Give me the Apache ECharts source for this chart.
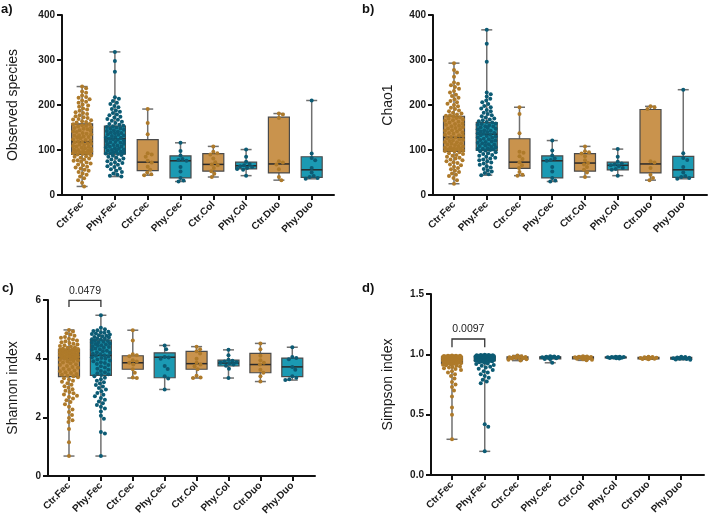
<!DOCTYPE html>
<html>
<head>
<meta charset="utf-8">
<script src="https://cdn.jsdelivr.net/npm/echarts@6/dist/echarts.min.js"></script>
<style>
html,body{margin:0;padding:0;background:#fff}
#chart{width:708px;height:518px}
</style>
</head>
<body>
<div id="chart"></div>
<script>
var categories = ['Ctr.Fec', 'Phy.Fec', 'Ctr.Cec', 'Phy.Cec', 'Ctr.Col', 'Phy.Col', 'Ctr.Duo', 'Phy.Duo'];
var tickValues = [0, 1, 2, 3, 4, 5, 6, 7];

// a) observed species
var obsBoxes = [[19, 90, 118, 158, 241], [41, 91, 125, 153, 318], [44, 54, 73, 123, 191], [30, 38, 76, 87, 116],
  [40, 53, 68, 92, 108], [43, 58, 65, 73, 101], [33, 49, 69, 173, 181], [36, 39, 56, 85, 210]];
var obsCtrFec = [241, 237, 230, 227, 221, 218, 216, 213, 210, 207, 205, 201, 199, 196, 192, 190, 187, 184, 182, 180, 177, 175, 173, 171, 169, 168, 166, 164, 162, 161,
  158, 157, 155, 154, 152, 150, 149, 147, 146, 144, 143, 141, 140, 138, 136, 135, 133, 132, 130, 129, 127, 126, 124, 122, 121, 119, 118, 117, 115, 114,
  112, 111, 109, 108, 107, 105, 104, 103, 101, 100, 99, 98, 97, 96, 95, 94, 93, 92, 91, 90,
  88, 86, 85, 83, 81, 79, 77, 76, 74, 72, 70, 68, 66, 63, 61, 59, 56, 54, 51, 48, 45, 41, 37, 33, 27, 19];
var obsPhyFec = [318, 298, 274, 217, 214, 209, 205, 202, 198, 195, 191, 188, 185, 182, 179, 177, 174, 172, 169, 167, 165, 163, 160, 158, 156, 154,
  153, 151, 150, 148, 147, 145, 144, 142, 141, 139, 138, 137, 135, 134, 132, 131, 129, 128, 127, 125, 124, 123, 121, 120, 118, 117, 116, 114, 113,
  111, 110, 108, 107, 106, 104, 103, 101, 100, 99, 98, 96, 95, 94, 93, 92, 91,
  89, 87, 85, 83, 81, 79, 77, 75, 73, 71, 69, 67, 64, 62, 59, 57, 54, 51, 48, 45, 43, 41];
var obsCtrCec = [191, 160, 135, 93, 90, 85, 76, 72, 63, 56, 50, 46, 44];
var obsPhyCec = [116, 98, 88, 80, 78, 76, 62, 52, 38, 32, 30];
var obsCtrCol = [108, 96, 93, 90, 81, 73, 68, 66, 60, 53, 47, 40];
var obsPhyCol = [101, 85, 74, 69, 66, 64, 62, 60, 58, 56, 43];
var obsCtrDuo = [181, 179, 171, 75, 72, 68, 57, 40, 33];
var obsPhyDuo = [210, 92, 82, 77, 60, 50, 42, 40, 38, 36];

// b) chao1
var chaoBoxes = [[25, 97, 128, 175, 293], [44, 99, 135, 161, 367], [43, 59, 73, 125, 195], [30, 38, 76, 87, 121],
  [40, 53, 71, 92, 108], [43, 56, 66, 73, 102], [33, 49, 69, 190, 197], [36, 39, 56, 86, 234]];
var chaoCtrFec = [293, 278, 272, 263, 250, 247, 244, 240, 236, 231, 228, 223, 220, 216, 213, 209, 206, 203, 200, 197, 194, 191, 188, 186, 183, 181, 179, 177, 176,
  175, 173, 171, 170, 168, 166, 165, 163, 161, 159, 158, 156, 154, 153, 151, 149, 148, 146, 144, 143, 141, 139, 138, 136, 134, 133, 131, 129, 128, 126,
  124, 123, 121, 120, 118, 117, 115, 114, 112, 111, 109, 108, 106, 105, 104, 103, 102, 101, 100, 99, 98, 97,
  95, 93, 91, 89, 87, 85, 83, 81, 79, 77, 75, 73, 71, 68, 66, 63, 60, 57, 54, 51, 48, 45, 42, 38, 33, 25];
var chaoPhyFec = [367, 336, 296, 228, 224, 219, 214, 210, 206, 202, 198, 195, 192, 189, 186, 183, 180, 177, 175, 172, 170, 168, 166, 164, 162,
  161, 159, 158, 156, 155, 153, 152, 150, 149, 147, 146, 144, 143, 141, 140, 138, 137, 136, 134, 133, 131, 130, 128, 127, 125, 124, 122, 121,
  119, 118, 116, 115, 113, 112, 110, 109, 107, 106, 104, 103, 102, 101, 100, 99,
  97, 95, 93, 91, 89, 87, 85, 83, 81, 79, 77, 75, 72, 70, 67, 64, 61, 58, 55, 52, 49, 46, 44];
var chaoCtrCec = [195, 180, 137, 96, 94, 86, 80, 73, 66, 60, 51, 45, 43];
var chaoPhyCec = [121, 99, 88, 81, 78, 76, 62, 52, 38, 32, 30];
var chaoCtrCol = [108, 97, 95, 92, 86, 77, 71, 68, 62, 56, 50, 40];
var chaoPhyCol = [102, 85, 74, 70, 68, 66, 64, 60, 58, 56, 43];
var chaoCtrDuo = [197, 195, 191, 75, 72, 60, 45, 38, 33];
var chaoPhyDuo = [234, 93, 82, 78, 62, 50, 42, 40, 38, 36];

// c) shannon
var shanBoxes = [[0.68, 3.39, 4.01, 4.32, 4.98], [0.68, 3.43, 4.11, 4.63, 5.48], [3.34, 3.64, 3.86, 4.10, 4.97], [2.95, 3.35, 4.05, 4.20, 4.45],
  [3.34, 3.64, 3.83, 4.25, 4.41], [3.34, 3.75, 3.85, 3.95, 4.30], [3.22, 3.52, 3.80, 4.18, 4.52], [3.27, 3.39, 3.72, 4.02, 4.39]];
var shanCtrFec = [4.98, 4.93, 4.87, 4.82, 4.78, 4.74, 4.71, 4.68, 4.65, 4.62, 4.59, 4.56, 4.53, 4.51, 4.48, 4.46, 4.43, 4.41, 4.39, 4.37, 4.35, 4.33,
  4.31, 4.30, 4.29, 4.28, 4.27, 4.26, 4.25, 4.24, 4.22, 4.21, 4.20, 4.19, 4.18, 4.16, 4.15, 4.14, 4.12, 4.11, 4.10, 4.08, 4.07, 4.06, 4.04, 4.03,
  4.02, 4.01, 4.00, 3.98, 3.96, 3.94, 3.92, 3.90, 3.87, 3.84, 3.81, 3.78, 3.75, 3.72, 3.69, 3.66, 3.63, 3.60, 3.57, 3.54, 3.51, 3.48, 3.45, 3.42, 3.40,
  3.37, 3.33, 3.29, 3.25, 3.21, 3.16, 3.11, 3.06, 3.01, 2.96, 2.91, 2.86, 2.82, 2.78, 2.74, 2.69, 2.64, 2.58, 2.52, 2.45, 2.36, 2.27, 2.18, 2.08,
  1.98, 1.90, 1.84, 1.60, 1.15, 0.68];
var shanPhyFec = [5.48, 5.05, 5.00, 4.97, 4.94, 4.92, 4.90, 4.88, 4.86, 4.84, 4.82, 4.80, 4.78, 4.76, 4.74, 4.72, 4.70, 4.68, 4.66, 4.65,
  4.62, 4.60, 4.58, 4.56, 4.54, 4.52, 4.50, 4.48, 4.46, 4.44, 4.42, 4.40, 4.37, 4.35, 4.32, 4.30, 4.27, 4.25, 4.22, 4.20, 4.17, 4.15, 4.12, 4.10,
  4.07, 4.05, 4.02, 4.00, 3.97, 3.94, 3.91, 3.88, 3.85, 3.82, 3.78, 3.74, 3.70, 3.66, 3.62, 3.58, 3.54, 3.50, 3.47, 3.44,
  3.40, 3.35, 3.30, 3.25, 3.20, 3.15, 3.10, 3.05, 3.00, 2.95, 2.89, 2.83, 2.77, 2.72, 2.66, 2.60, 2.54, 2.48, 2.42, 2.36, 2.30, 2.20, 2.05, 1.95,
  1.50, 1.45, 0.68];
var shanCtrCec = [4.97, 4.62, 4.15, 4.12, 4.08, 3.95, 3.90, 3.86, 3.80, 3.64, 3.52, 3.36, 3.34];
var shanPhyCec = [4.45, 4.32, 4.06, 4.04, 4.00, 3.75, 3.65, 3.40, 3.32, 2.95];
var shanCtrCol = [4.41, 4.32, 4.25, 4.18, 4.00, 3.86, 3.80, 3.74, 3.64, 3.42, 3.36, 3.34];
var shanPhyCol = [4.30, 4.12, 3.96, 3.93, 3.90, 3.88, 3.86, 3.84, 3.80, 3.76, 3.66, 3.34];
var shanCtrDuo = [4.52, 4.32, 4.10, 3.95, 3.86, 3.80, 3.62, 3.52, 3.40, 3.22];
var shanPhyDuo = [4.39, 4.06, 4.02, 3.98, 3.72, 3.62, 3.40, 3.35, 3.30, 3.27];
var shanPValue = '0.0479';

// d) simpson
var simpBoxes = [[0.296, 0.925, 0.955, 0.98, 0.99], [0.196, 0.945, 0.965, 0.985, 0.996], [0.948, 0.962, 0.97, 0.98, 0.99], [0.93, 0.962, 0.975, 0.98, 0.985],
  [0.95, 0.962, 0.975, 0.98, 0.985], [0.965, 0.97, 0.975, 0.978, 0.98], [0.96, 0.963, 0.97, 0.975, 0.98], [0.955, 0.96, 0.968, 0.975, 0.98]];
var simpCtrFec = [0.990, 0.989, 0.988, 0.988, 0.986, 0.985, 0.984, 0.983, 0.982, 0.981, 0.980, 0.979, 0.978, 0.977, 0.976, 0.975, 0.974, 0.973,
  0.972, 0.971, 0.970, 0.969, 0.968, 0.967, 0.966, 0.965, 0.964, 0.963, 0.962, 0.961, 0.960, 0.959, 0.958, 0.957, 0.956, 0.955, 0.954, 0.953,
  0.952, 0.951, 0.950, 0.948, 0.946, 0.944, 0.942, 0.940, 0.938, 0.936, 0.934, 0.932, 0.930, 0.928, 0.926, 0.924, 0.921, 0.918, 0.914, 0.910,
  0.905, 0.900, 0.895, 0.890, 0.884, 0.878, 0.870, 0.860, 0.850, 0.835, 0.820, 0.800, 0.770, 0.750, 0.730, 0.700, 0.650, 0.560, 0.500, 0.296];
var simpPhyFec = [0.996, 0.995, 0.994, 0.993, 0.992, 0.991, 0.990, 0.989, 0.988, 0.987, 0.986, 0.985, 0.984, 0.983, 0.982, 0.981, 0.980, 0.979,
  0.978, 0.977, 0.976, 0.975, 0.974, 0.973, 0.972, 0.971, 0.970, 0.969, 0.968, 0.967, 0.966, 0.965, 0.964, 0.963, 0.962, 0.961, 0.960, 0.958,
  0.956, 0.954, 0.952, 0.950, 0.948, 0.946, 0.945, 0.942, 0.938, 0.934, 0.930, 0.925, 0.920, 0.912, 0.905, 0.898, 0.890, 0.880, 0.870, 0.860,
  0.850, 0.835, 0.820, 0.805, 0.790, 0.775, 0.760, 0.420, 0.400, 0.196];
var simpCtrCec = [0.990, 0.985, 0.980, 0.978, 0.975, 0.972, 0.970, 0.968, 0.965, 0.960, 0.955, 0.948];
var simpPhyCec = [0.985, 0.982, 0.980, 0.978, 0.976, 0.975, 0.972, 0.968, 0.962, 0.960, 0.930];
var simpCtrCol = [0.985, 0.982, 0.980, 0.978, 0.976, 0.975, 0.972, 0.968, 0.963, 0.960, 0.955, 0.950];
var simpPhyCol = [0.980, 0.979, 0.978, 0.977, 0.976, 0.975, 0.974, 0.972, 0.970, 0.968, 0.965];
var simpCtrDuo = [0.980, 0.977, 0.975, 0.972, 0.970, 0.968, 0.966, 0.964, 0.962, 0.960];
var simpPhyDuo = [0.980, 0.977, 0.974, 0.971, 0.968, 0.966, 0.964, 0.962, 0.958, 0.955];
var simpPValue = '0.0097';

var GOLD_BOX = '#c9934d', GOLD_PT = '#ae7a2a';
var TEAL_BOX = '#1b9ab3', TEAL_PT = '#0c5b74';
var AXIS = '#111';
var FONT = 'Liberation Sans, Arial, sans-serif';

var panels = [
  {name: 'Observed species', letter: 'a)', letterPos: [1, 3], grid: {left: 62, top: 15, width: 272, height: 180},
    xMin: -0.613, xMax: 7.68, yMax: 400, yStep: 100, nameGap: 42, dec: 0, boxes: obsBoxes,
    points: [obsCtrFec, obsPhyFec, obsCtrCec, obsPhyCec, obsCtrCol, obsPhyCol, obsCtrDuo, obsPhyDuo]},
  {name: 'Chao1', letter: 'b)', letterPos: [362, 3], grid: {left: 433, top: 15, width: 274, height: 180},
    xMin: -0.641, xMax: 7.725, yMax: 400, yStep: 100, nameGap: 38, dec: 0, boxes: chaoBoxes,
    points: [chaoCtrFec, chaoPhyFec, chaoCtrCec, chaoPhyCec, chaoCtrCol, chaoPhyCol, chaoCtrDuo, chaoPhyDuo]},
  {name: 'Shannon index', letter: 'c)', letterPos: [2, 282], grid: {left: 48, top: 300, width: 267, height: 176},
    xMin: -0.658, xMax: 7.712, yMax: 6, yStep: 2, nameGap: 28, dec: 0, boxes: shanBoxes,
    points: [shanCtrFec, shanPhyFec, shanCtrCec, shanPhyCec, shanCtrCol, shanPhyCol, shanCtrDuo, shanPhyDuo],
    bracket: [0, 1, 5.99, 5.76, shanPValue]},
  {name: 'Simpson index', letter: 'd)', letterPos: [362, 282], grid: {left: 431, top: 294, width: 273, height: 181},
    xMin: -0.641, xMax: 7.695, yMax: 1.5, yStep: 0.5, nameGap: 36, dec: 1, boxes: simpBoxes,
    points: [simpCtrFec, simpPhyFec, simpCtrCec, simpPhyCec, simpCtrCol, simpPhyCol, simpCtrDuo, simpPhyDuo],
    bracket: [0, 1, 1.127, 1.058, simpPValue]}
];

// beeswarm offsets in pixels, placed from top value down
function swarm(values, pxPerUnit, d, maxW) {
  var order = values.map(function (v, i) { return i; }).sort(function (a, b) { return values[b] - values[a]; });
  var placed = [];
  var off = new Array(values.length);
  var steps = Math.floor(maxW / 0.5);
  order.forEach(function (i) {
    var py = values[i] * pxPerUnit;
    var best = 0, bestScore = -1;
    for (var k = 0; k <= 2 * steps; k++) {
      var dx = (k % 2 === 1 ? 1 : -1) * Math.ceil(k / 2) * 0.5;
      var minD = Infinity;
      for (var j = 0; j < placed.length; j++) {
        var ddy = placed[j][1] - py;
        if (Math.abs(ddy) >= d) continue;
        var ddx = placed[j][0] - dx;
        var dd = Math.sqrt(ddx * ddx + ddy * ddy);
        if (dd < minD) minD = dd;
      }
      if (minD >= d) { best = dx; break; }
      if (minD > bestScore) { bestScore = minD; best = dx; }
    }
    placed.push([best, py]);
    off[i] = best;
  });
  return off;
}

function renderBox(params, api) {
  var x = api.value(0);
  var pMin = api.coord([x, api.value(1)]);
  var pQ1 = api.coord([x, api.value(2)]);
  var pMed = api.coord([x, api.value(3)]);
  var pQ3 = api.coord([x, api.value(4)]);
  var pMax = api.coord([x, api.value(5)]);
  var cx = pMin[0], hw = 10.5, cw = 5.5;
  var whisk = {stroke: '#707070', lineWidth: 1.5};
  return {type: 'group', children: [
    {type: 'line', shape: {x1: cx, y1: pMax[1], x2: cx, y2: pQ3[1]}, style: whisk},
    {type: 'line', shape: {x1: cx, y1: pQ1[1], x2: cx, y2: pMin[1]}, style: whisk},
    {type: 'line', shape: {x1: cx - cw, y1: pMax[1], x2: cx + cw, y2: pMax[1]}, style: whisk},
    {type: 'line', shape: {x1: cx - cw, y1: pMin[1], x2: cx + cw, y2: pMin[1]}, style: whisk},
    {type: 'rect', shape: {x: cx - hw, y: pQ3[1], width: hw * 2, height: pQ1[1] - pQ3[1]},
      style: {fill: x % 2 === 0 ? GOLD_BOX : TEAL_BOX, stroke: '#4a4a4a', lineWidth: 1.2}},
    {type: 'line', shape: {x1: cx - hw, y1: pMed[1], x2: cx + hw, y2: pMed[1]}, style: {stroke: '#2a2a2a', lineWidth: 1.5}}
  ]};
}

function renderBracket(params, api, label) {
  var a = api.coord([api.value(0), api.value(2)]);
  var b = api.coord([api.value(1), api.value(2)]);
  var t = api.coord([api.value(0), api.value(3)]);
  return {type: 'group', children: [
    {type: 'polyline', shape: {points: [[a[0], t[1]], [a[0], a[1]], [b[0], b[1]], [b[0], t[1]]]},
      style: {stroke: '#333', lineWidth: 1.3, fill: null}},
    {type: 'text', x: (a[0] + b[0]) / 2, y: a[1] - 4,
      style: {text: label, fill: '#222', font: '10.5px ' + FONT, align: 'center', verticalAlign: 'bottom',
        textAlign: 'center', textVerticalAlign: 'bottom'}}
  ]};
}

var option = {
  backgroundColor: '#fff',
  animation: false,
  title: [], grid: [], xAxis: [], yAxis: [], series: []
};

panels.forEach(function (p, gi) {
  option.title.push({text: p.letter, left: p.letterPos[0], top: p.letterPos[1], padding: 0,
    textStyle: {fontSize: 13, fontWeight: 'bold', fontFamily: FONT, color: '#111'}});
  option.grid.push({left: p.grid.left, top: p.grid.top, width: p.grid.width, height: p.grid.height,
    containLabel: false, outerBoundsMode: 'none'});
  option.xAxis.push({
    type: 'value', gridIndex: gi, min: p.xMin, max: p.xMax,
    splitLine: {show: false},
    axisLine: {show: true, onZero: false, lineStyle: {color: AXIS, width: 2}},
    axisTick: {show: true, customValues: tickValues, length: 5, lineStyle: {color: AXIS, width: 2}},
    axisLabel: {customValues: tickValues, rotate: 45, margin: 8, fontSize: 10, fontWeight: 'bold',
      fontFamily: FONT, color: '#1a1a1a', formatter: function (v) { return categories[Math.round(v)]; }}
  });
  option.yAxis.push({
    type: 'value', gridIndex: gi, min: 0, max: p.yMax, interval: p.yStep,
    name: p.name, nameLocation: 'middle', nameGap: p.nameGap,
    nameTextStyle: {fontSize: 14, fontFamily: FONT, color: '#1a1a1a'},
    splitLine: {show: false},
    axisLine: {show: true, onZero: false, lineStyle: {color: AXIS, width: 2}},
    axisTick: {show: true, length: 5, lineStyle: {color: AXIS, width: 2}},
    axisLabel: {margin: 7, fontSize: 10, fontWeight: 'bold', fontFamily: FONT, color: '#1a1a1a',
      formatter: function (v) { return v.toFixed(p.dec); }}
  });

  option.series.push({
    type: 'custom', xAxisIndex: gi, yAxisIndex: gi, z: 2, renderItem: renderBox,
    encode: {x: 0, y: [1, 2, 3, 4, 5]},
    data: p.boxes.map(function (b, i) { return [i, b[0], b[1], b[2], b[3], b[4]]; })
  });

  var pxPerUnit = p.grid.height / p.yMax;
  var gold = [], teal = [];
  p.points.forEach(function (vals, ci) {
    var off = swarm(vals, pxPerUnit, 4, 9);
    vals.forEach(function (v, k) {
      (ci % 2 === 0 ? gold : teal).push({value: [ci, v], symbolOffset: [off[k], 0]});
    });
  });
  option.series.push({type: 'scatter', xAxisIndex: gi, yAxisIndex: gi, z: 3, symbolSize: 4,
    itemStyle: {color: GOLD_PT, opacity: 1}, data: gold});
  option.series.push({type: 'scatter', xAxisIndex: gi, yAxisIndex: gi, z: 3, symbolSize: 4,
    itemStyle: {color: TEAL_PT, opacity: 1}, data: teal});

  if (p.bracket) {
    var br = p.bracket;
    option.series.push({
      type: 'custom', xAxisIndex: gi, yAxisIndex: gi, z: 4,
      renderItem: function (params, api) { return renderBracket(params, api, br[4]); },
      encode: {x: [0, 1], y: [2, 3]},
      data: [[br[0], br[1], br[2], br[3]]]
    });
  }
});

var chart = echarts.init(document.getElementById('chart'), null, {renderer: 'canvas'});
chart.setOption(option);
</script>
</body>
</html>
